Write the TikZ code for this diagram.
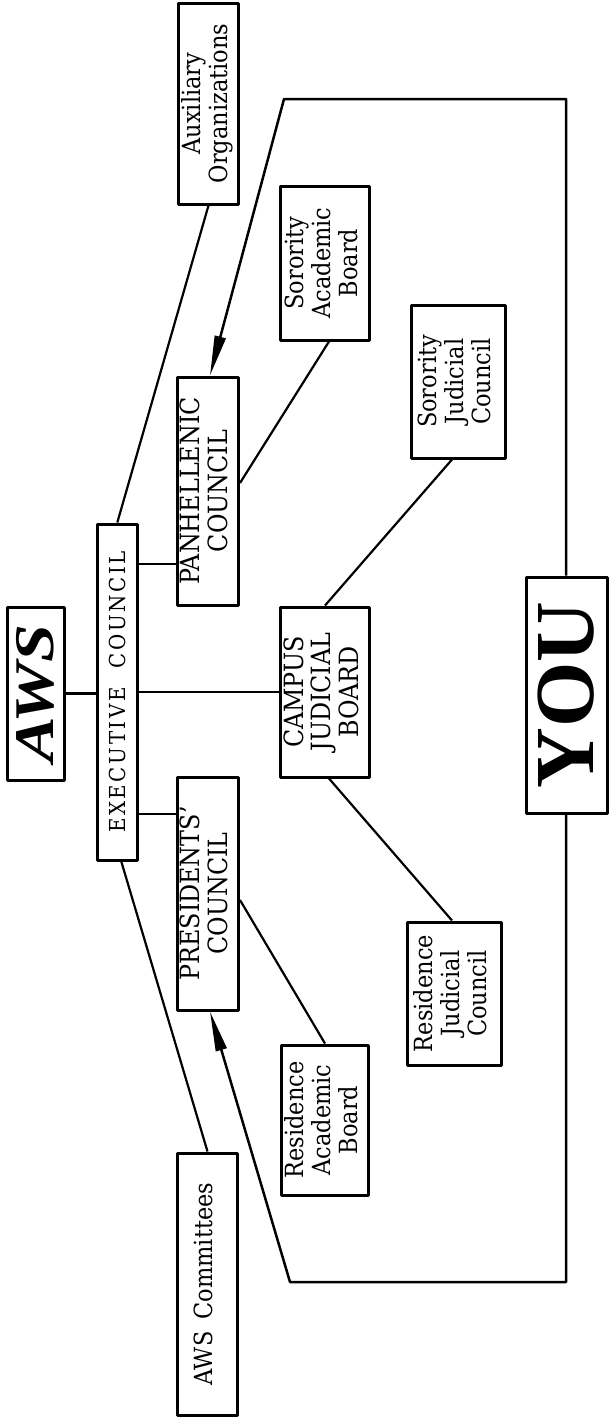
\documentclass[tikz,border=0pt]{standalone}
\usepackage{fontspec}
\setmainfont{DejaVu Serif Condensed}
\newfontfamily\timesf{Liberation Serif}
\usetikzlibrary{arrows.meta}
\tikzset{
  box/.style={draw, line width=3pt, inner sep=0pt, line join=round},
  lbl/.style={font=\fontsize{26.5}{27}\selectfont},
  lbls/.style={font=\fontsize{25}{26.5}\selectfont},
  link/.style={line width=2.2pt},
  loopline/.style={line width=2.5pt, line join=round},
  head/.style={-{Triangle[length=40pt,width=11pt]}}
}
\newcommand{\vtext}[1]{\rotatebox{90}{\begin{tabular}{@{}c@{}}#1\end{tabular}}}
\begin{document}
\begin{tikzpicture}[x=1pt,y=-1pt]
\path[fill=white] (0,0) rectangle (611,1422);
\useasboundingbox (0,0) rectangle (611,1422);

% boxes
\node[box, minimum width=57pt, minimum height=173pt] (aws) at (35.5,693.5)
  {\rotatebox{90}{\scalebox{1.22}[1]{\timesf\fontsize{56}{60}\selectfont\bfseries\itshape AWS}}};
\node[box, minimum width=40pt, minimum height=336pt] (exec) at (117.3,692)
  {\rotatebox{90}{\fontsize{22}{24}\selectfont\addfontfeature{LetterSpace=12}EXECUTIVE\hspace{10pt} COUNCIL}};
\node[box, lbls, minimum width=60pt, minimum height=201pt] (aux) at (208.5,103.5)
  {\vtext{Auxiliary\\Organizations}};
\node[box, lbl, minimum width=61pt, minimum height=228pt] (pan) at (208,491)
  {\vtext{PANHELLENIC\\COUNCIL}};
\node[box, lbl, minimum width=61pt, minimum height=233pt] (pres) at (208,893.5)
  {\vtext{PRESIDENTS'\\COUNCIL}};
\node[box, lbls, minimum width=60pt, minimum height=262pt] (awsc) at (207.5,1284)
  {\vtext{AWS\hspace{5pt} Committees}};
\node[box, lbls, minimum width=89pt, minimum height=154pt] (sab) at (325,263)
  {\vtext{Sorority\\Academic\\Board}};
\node[box, lbl, minimum width=89pt, minimum height=170pt] (cjb) at (325,692)
  {\vtext{CAMPUS\\JUDICIAL\\BOARD}};
\node[box, lbls, minimum width=87pt, minimum height=150pt] (rab) at (325,1120)
  {\vtext{Residence\\Academic\\Board}};
\node[box, lbls, minimum width=94pt, minimum height=153pt] (sjc) at (458,381.5)
  {\vtext{Sorority\\Judicial\\Council}};
\node[box, lbls, minimum width=94pt, minimum height=143pt] (rjc) at (454,993.5)
  {\vtext{Residence\\Judicial\\Council}};
\node[box, minimum width=81pt, minimum height=236pt] (you) at (566.5,695)
  {\rotatebox{90}{\timesf\fontsize{84}{84}\selectfont\bfseries YOU}};

% junction helpers
\coordinate (j1) at (0,564);
\coordinate (j2) at (0,814);
\coordinate (c1) at (284,99);
\coordinate (c2) at (566,99);
\coordinate (c3) at (566,1282);
\coordinate (c4) at (290,1282);

% connectors
\draw[link] (aws.east) -- (aws.east -| exec.west);
\draw[link] (exec.east) -- (cjb.west);
\draw[link] (exec.east |- j1) -- (pan.west |- j1);
\draw[link] (exec.east |- j2) -- (pres.west |- j2);
\draw[link] (aux.south) -- (exec.north);
\draw[link] ([xshift=4pt]exec.south) -- (awsc.north);
\draw[link] ([xshift=4pt]sab.south) -- ([yshift=8pt]pan.east);
\draw[link] ([xshift=-6pt]sjc.south) -- (cjb.north);
\draw[link] ([xshift=4pt]cjb.south) -- ([xshift=-2pt]rjc.north);
\draw[link] ([yshift=-6.5pt]pres.east) -- (rab.north);

% YOU loop
\draw[loopline, head] (c2 |- you.north) -- (c2) -- (c1) -- ([xshift=2pt]pan.north);
\draw[loopline, head] (c3 |- you.south) -- (c3) -- (c4) -- ([xshift=2pt]pres.south);
\end{tikzpicture}
\end{document}
